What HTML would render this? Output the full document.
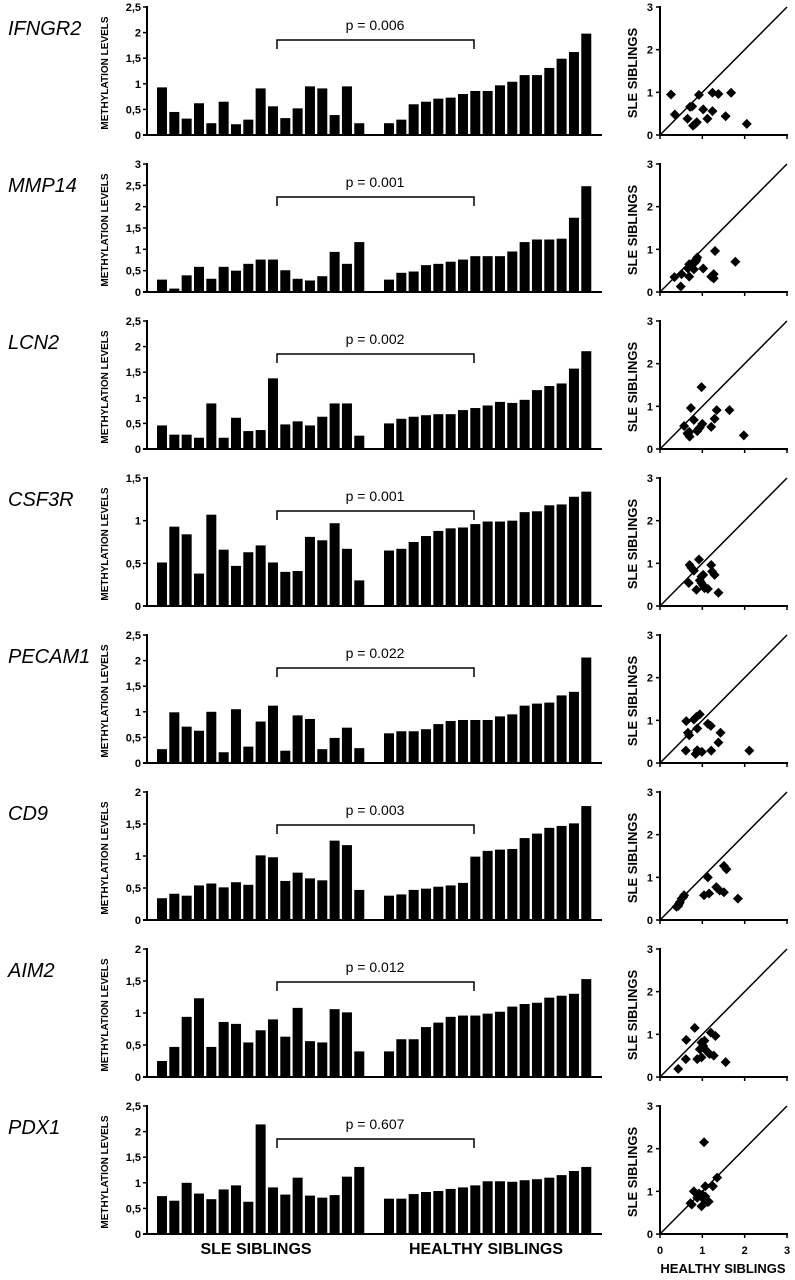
<!DOCTYPE html>
<html><head><meta charset="utf-8"><style>
html,body{margin:0;padding:0;background:#fff}
svg{display:block;font-family:"Liberation Sans",Arial,sans-serif}
</style></head><body>
<svg id="fig" width="795" height="1280" viewBox="0 0 795 1280" xmlns="http://www.w3.org/2000/svg"></svg>
<script>
const genes = ["IFNGR2","MMP14","LCN2","CSF3R","PECAM1","CD9","AIM2","PDX1"];
const pValues = ["p = 0.006","p = 0.001","p = 0.002","p = 0.001","p = 0.022","p = 0.003","p = 0.012","p = 0.607"];
const yMax = [2.5,3,2.5,1.5,2.5,2,2,2.5];
const yTickLabels = [
 ["0","0,5","1","1,5","2","2,5"],
 ["0","0,5","1","1,5","2","2,5","3"],
 ["0","0,5","1","1,5","2","2,5"],
 ["0","0,5","1","1,5"],
 ["0","0,5","1","1,5","2","2,5"],
 ["0","0,5","1","1,5","2"],
 ["0","0,5","1","1,5","2"],
 ["0","0,5","1","1,5","2","2,5"]];
const sleValues = [
 [0.93,0.45,0.32,0.62,0.23,0.65,0.21,0.30,0.91,0.56,0.33,0.52,0.95,0.91,0.39,0.95,0.23],
 [0.29,0.08,0.39,0.59,0.31,0.59,0.50,0.66,0.76,0.76,0.51,0.31,0.27,0.37,0.94,0.66,1.17],
 [0.46,0.28,0.28,0.22,0.89,0.22,0.61,0.35,0.37,1.38,0.48,0.54,0.46,0.63,0.89,0.89,0.26],
 [0.51,0.93,0.84,0.38,1.07,0.66,0.47,0.63,0.71,0.51,0.40,0.41,0.81,0.77,0.97,0.67,0.30],
 [0.27,0.99,0.71,0.63,1.00,0.21,1.05,0.32,0.81,1.12,0.24,0.93,0.86,0.27,0.49,0.69,0.29],
 [0.34,0.41,0.38,0.54,0.57,0.51,0.59,0.55,1.01,0.98,0.61,0.74,0.65,0.62,1.24,1.17,0.47],
 [0.25,0.47,0.94,1.23,0.47,0.86,0.83,0.54,0.73,0.90,0.63,1.08,0.56,0.54,1.06,1.01,0.40],
 [0.74,0.65,1.00,0.79,0.68,0.87,0.95,0.63,2.14,0.91,0.77,1.10,0.75,0.71,0.76,1.12,1.31]];
const healthyValues = [
 [0.23,0.30,0.60,0.65,0.71,0.73,0.80,0.86,0.86,0.97,1.04,1.17,1.17,1.31,1.49,1.62,1.98],
 [0.29,0.45,0.48,0.63,0.66,0.71,0.76,0.84,0.84,0.84,0.95,1.17,1.23,1.23,1.25,1.74,2.48],
 [0.50,0.59,0.63,0.66,0.68,0.68,0.76,0.80,0.85,0.92,0.90,0.96,1.15,1.23,1.28,1.57,1.91],
 [0.65,0.67,0.75,0.82,0.88,0.91,0.92,0.96,0.99,0.99,1.00,1.10,1.11,1.18,1.19,1.28,1.34],
 [0.58,0.62,0.62,0.66,0.76,0.82,0.84,0.84,0.84,0.91,0.95,1.12,1.16,1.18,1.32,1.39,2.06],
 [0.38,0.40,0.47,0.49,0.52,0.54,0.58,0.99,1.08,1.10,1.11,1.28,1.35,1.44,1.47,1.51,1.78],
 [0.40,0.59,0.59,0.78,0.85,0.94,0.96,0.96,0.99,1.02,1.10,1.14,1.16,1.24,1.27,1.30,1.53],
 [0.69,0.69,0.78,0.82,0.84,0.88,0.91,0.95,1.03,1.03,1.02,1.05,1.07,1.10,1.15,1.23,1.31]];
const scatterX = [
 [0.26,0.35,0.65,0.71,0.76,0.83,0.87,0.92,1.02,1.12,1.24,1.24,1.38,1.55,1.68,2.05,0.78],
 [0.34,0.51,0.49,0.69,0.69,0.74,0.80,0.84,0.88,1.02,1.21,1.27,1.27,1.30,1.78,0.66,0.86],
 [0.98,0.73,0.57,0.65,0.70,0.80,0.88,0.94,1.00,1.21,1.29,1.34,1.64,1.98,0.66,0.90,0.69],
 [0.68,0.70,0.80,0.92,0.98,1.02,0.98,0.86,1.05,1.13,1.21,1.29,1.23,1.38,1.02,0.74,0.94],
 [0.62,0.66,0.69,0.80,0.86,0.94,0.88,1.13,1.20,1.43,1.38,1.21,0.61,0.84,0.88,0.99,2.11],
 [0.43,0.47,0.51,0.57,0.45,0.55,1.04,1.16,1.13,1.33,1.41,1.51,1.51,1.57,1.84,1.37,0.39],
 [0.43,0.61,0.62,0.82,0.88,0.98,0.98,1.02,1.05,1.13,1.17,1.27,1.20,1.31,1.55,1.09,0.94],
 [0.72,0.75,0.80,0.88,0.92,0.98,1.00,1.05,1.07,1.07,1.10,1.12,1.15,1.25,1.35,1.04,0.95]];
const scatterY = [
 [0.95,0.48,0.38,0.66,0.67,0.26,0.30,0.94,0.60,0.38,0.99,0.56,0.96,0.44,0.99,0.26,0.22],
 [0.35,0.42,0.13,0.36,0.65,0.62,0.53,0.71,0.81,0.55,0.36,0.42,0.32,0.96,0.71,0.55,0.75],
 [1.45,0.96,0.54,0.37,0.29,0.68,0.42,0.50,0.59,0.52,0.71,0.91,0.91,0.32,0.35,0.46,0.40],
 [0.54,0.96,0.83,1.09,0.69,0.73,0.54,0.38,0.42,0.40,0.96,0.73,0.81,0.31,0.48,0.90,0.60],
 [0.98,0.71,0.65,1.02,1.08,1.14,0.81,0.92,0.87,0.71,0.48,0.29,0.29,0.21,0.30,0.26,0.29],
 [0.33,0.42,0.50,0.58,0.38,0.54,0.58,0.62,1.00,0.77,0.69,0.65,1.27,1.19,0.50,0.73,0.31],
 [0.19,0.42,0.87,1.15,0.42,0.46,0.81,0.73,0.85,0.58,0.54,0.50,1.04,0.96,0.35,0.62,0.65],
 [0.72,0.69,1.00,0.85,0.95,0.65,0.92,0.80,0.88,1.12,0.78,0.75,0.76,1.12,1.32,2.15,0.90]];
const scatterTicks = ["0","1","2","3"];

const NS = "http://www.w3.org/2000/svg";
const svg = document.getElementById("fig");
function mk(tag, attrs, parent){const e=document.createElementNS(NS,tag);for(const k in attrs)e.setAttribute(k,attrs[k]);(parent||svg).appendChild(e);return e;}

const ROW0 = 135, ROWSTEP = 157, PLOT_H = 128;
const AX_X = 147, AX_END = 602;
const SLE_X0 = 157, HEA_X0 = 384, STEP = 12.33, BW = 10;
const SC_X0 = 660, SC_W = 127, SC_H = 128;

genes.forEach((g, i) => {
  const y0 = ROW0 + ROWSTEP * i;
  const yScale = v => y0 - v / yMax[i] * PLOT_H;
  const grp = mk("g", {});
  
  

  const gt = mk("text", {x: 8, y: y0 - 100, "font-size": 20, "font-style": "italic", fill: "#000"}, grp);
  gt.textContent = g;
  
  

  const yt = mk("text", {x: 0, y: 0, "font-size": 10, "font-weight": "bold", "text-anchor": "middle", transform: `translate(108,${y0 - 62}) rotate(-90)`}, grp);
  yt.textContent = "METHYLATION LEVELS";
  
  

  // axes
  const ya = mk("line", {x1: AX_X, y1: y0 + 1, x2: AX_X, y2: y0 - PLOT_H - 1, stroke: "#000", "stroke-width": 2}, grp);
  
  
  const xa = mk("line", {x1: AX_X - 4, y1: y0, x2: AX_END, y2: y0, stroke: "#000", "stroke-width": 2}, grp);
  
  
  yTickLabels[i].forEach((lab, k) => {
    const v = k * 0.5, yy = yScale(v);
    mk("line", {x1: AX_X - 4, y1: yy, x2: AX_X, y2: yy, stroke: "#000", "stroke-width": 1.5}, grp);
    const t = mk("text", {x: 141, y: yy + 4, "font-size": 11, "font-weight": "bold", "text-anchor": "end"}, grp);
    t.textContent = lab;
    
    
  });

  sleValues[i].forEach((v, k) => {
    const yy = yScale(v);
    const r = mk("rect", {x: SLE_X0 + k * STEP, y: yy, width: BW, height: y0 - yy, fill: "#000"}, grp);
    
    
  });
  healthyValues[i].forEach((v, k) => {
    const yy = yScale(v);
    const r = mk("rect", {x: HEA_X0 + k * STEP, y: yy, width: BW, height: y0 - yy, fill: "#000"}, grp);
    
    
  });

  // bracket
  const br = mk("path", {d: `M277,${y0 - 86} V${y0 - 95} H474 V${y0 - 86}`, fill: "none", stroke: "#000", "stroke-width": 1.5}, grp);
  
  
  const pt = mk("text", {x: 375, y: y0 - 105, "font-size": 14, "text-anchor": "middle"}, grp);
  pt.textContent = pValues[i];
  
  

  // scatter
  const sx = v => SC_X0 + v / 3 * SC_W;
  const sy = v => y0 - v / 3 * SC_H;
  const sya = mk("line", {x1: SC_X0, y1: y0 + 1, x2: SC_X0, y2: y0 - SC_H - 1, stroke: "#000", "stroke-width": 2}, grp);
  
  
  const sxa = mk("line", {x1: SC_X0 - 1, y1: y0, x2: SC_X0 + SC_W + 1, y2: y0, stroke: "#000", "stroke-width": 2}, grp);
  
  
  scatterTicks.forEach((lab, k) => {
    mk("line", {x1: SC_X0 - 4, y1: sy(k), x2: SC_X0, y2: sy(k), stroke: "#000", "stroke-width": 1.5}, grp);
    mk("line", {x1: sx(k), y1: y0, x2: sx(k), y2: y0 + 4, stroke: "#000", "stroke-width": 1.5}, grp);
    const t = mk("text", {x: SC_X0 - 7, y: sy(k) + 4, "font-size": 11, "font-weight": "bold", "text-anchor": "end"}, grp);
    t.textContent = lab;
    
    
  });
  const diag = mk("line", {x1: sx(0), y1: sy(0), x2: sx(3), y2: sy(3), stroke: "#000", "stroke-width": 1.5}, grp);
  
  
  const st = mk("text", {x: 0, y: 0, "font-size": 13, "font-weight": "bold", "text-anchor": "middle", transform: `translate(637,${y0 - 62}) rotate(-90)`}, grp);
  st.textContent = "SLE SIBLINGS";
  
  
  scatterX[i].forEach((xv, k) => {
    const cx = sx(xv), cy = sy(scatterY[i][k]), d = 5;
    const p = mk("path", {d: `M${cx},${cy - d} L${cx + d},${cy} L${cx},${cy + d} L${cx - d},${cy} Z`, fill: "#000"}, grp);
    
    
  });

  if (i === genes.length - 1) {
    scatterTicks.forEach((lab, k) => {
      const t = mk("text", {x: sx(k), y: y0 + 20, "font-size": 11, "font-weight": "bold", "text-anchor": "middle"}, grp);
      t.textContent = lab;
      
      
    });
    const hx = mk("text", {x: 723, y: y0 + 39, "font-size": 13, "font-weight": "bold", "text-anchor": "middle"}, grp);
    hx.textContent = "HEALTHY SIBLINGS";
    
    
    const l1 = mk("text", {x: 256, y: y0 + 20, "font-size": 16, "font-weight": "bold", "text-anchor": "middle"}, grp);
    l1.textContent = "SLE SIBLINGS";
    
    
    const l2 = mk("text", {x: 486, y: y0 + 20, "font-size": 16, "font-weight": "bold", "text-anchor": "middle"}, grp);
    l2.textContent = "HEALTHY SIBLINGS";
    
    
  }
});
</script>
</body></html>
